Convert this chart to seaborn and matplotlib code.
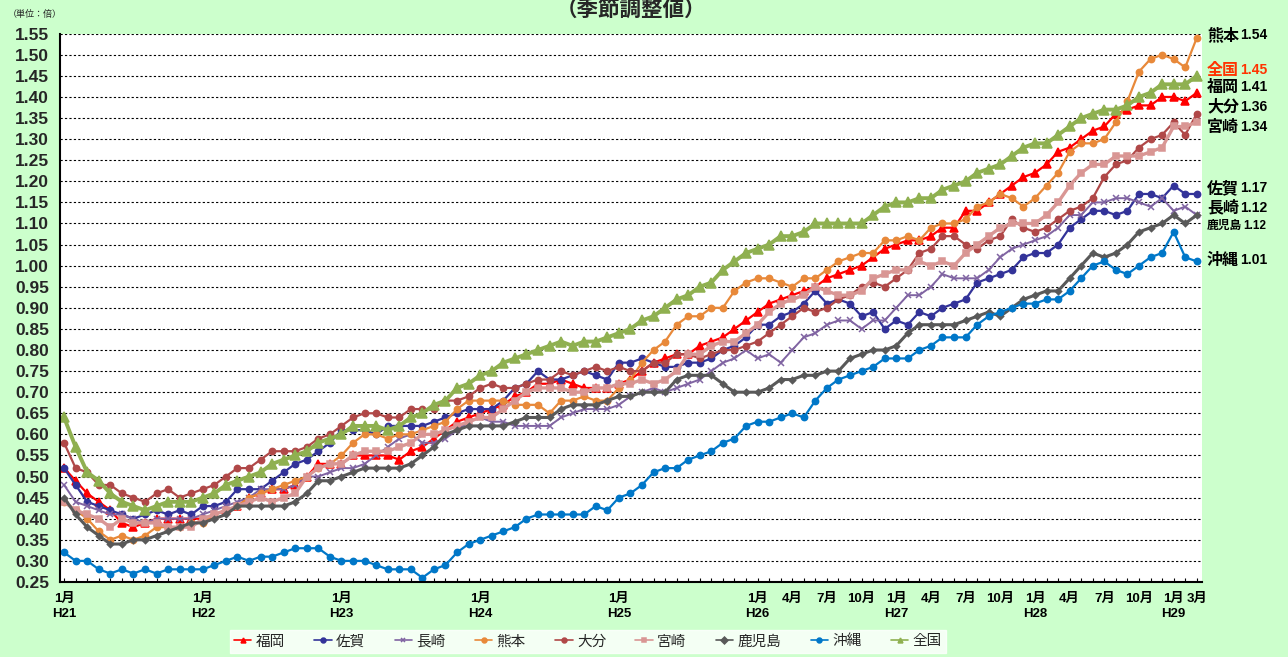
import numpy as np
import pandas as pd
import matplotlib
matplotlib.use('Agg')
import matplotlib.pyplot as plt
import seaborn as sns
from matplotlib.ticker import MultipleLocator, FormatStrFormatter

# monthly, Jan H21 .. Mar H29 (99 points)
months = np.arange(99)

fukuoka = [0.52, 0.49, 0.46, 0.44, 0.42, 0.39, 0.38, 0.39, 0.40, 0.40, 0.40, 0.40,
           0.40, 0.41, 0.42, 0.43, 0.45, 0.46, 0.47, 0.47, 0.48, 0.50, 0.53, 0.53,
           0.53, 0.55, 0.55, 0.55, 0.55, 0.54, 0.56, 0.57, 0.59, 0.61, 0.63, 0.64,
           0.65, 0.66, 0.67, 0.69, 0.70, 0.72, 0.72, 0.73, 0.72, 0.71, 0.71, 0.71,
           0.72, 0.73, 0.75, 0.77, 0.78, 0.79, 0.79, 0.81, 0.82, 0.83, 0.85, 0.87,
           0.89, 0.91, 0.92, 0.93, 0.94, 0.95, 0.97, 0.98, 0.99, 1.00, 1.02, 1.04,
           1.05, 1.06, 1.06, 1.07, 1.09, 1.09, 1.13, 1.13, 1.15, 1.17, 1.19, 1.21,
           1.22, 1.24, 1.27, 1.28, 1.30, 1.32, 1.33, 1.36, 1.37, 1.38, 1.38, 1.40,
           1.40, 1.39, 1.41]
saga = [0.52, 0.48, 0.44, 0.43, 0.42, 0.41, 0.40, 0.41, 0.42, 0.41, 0.42, 0.41,
        0.43, 0.43, 0.44, 0.47, 0.47, 0.47, 0.49, 0.51, 0.53, 0.54, 0.56, 0.58,
        0.61, 0.61, 0.61, 0.60, 0.62, 0.62, 0.62, 0.62, 0.63, 0.64, 0.65, 0.66,
        0.66, 0.66, 0.68, 0.71, 0.72, 0.75, 0.73, 0.73, 0.74, 0.75, 0.74, 0.73,
        0.77, 0.77, 0.78, 0.77, 0.76, 0.76, 0.77, 0.77, 0.78, 0.80, 0.81, 0.83,
        0.86, 0.86, 0.88, 0.89, 0.91, 0.94, 0.91, 0.92, 0.91, 0.88, 0.89, 0.85,
        0.87, 0.86, 0.89, 0.88, 0.90, 0.91, 0.92, 0.96, 0.97, 0.98, 0.99, 1.02,
        1.03, 1.03, 1.05, 1.09, 1.11, 1.13, 1.13, 1.12, 1.13, 1.17, 1.17, 1.16,
        1.19, 1.17, 1.17]
nagasaki = [0.48, 0.44, 0.43, 0.42, 0.41, 0.41, 0.40, 0.39, 0.40, 0.40, 0.40, 0.40,
            0.41, 0.42, 0.43, 0.44, 0.45, 0.47, 0.47, 0.47, 0.48, 0.50, 0.50, 0.51,
            0.52, 0.52, 0.53, 0.55, 0.57, 0.59, 0.60, 0.58, 0.58, 0.59, 0.61, 0.63,
            0.64, 0.63, 0.63, 0.62, 0.62, 0.62, 0.62, 0.64, 0.65, 0.66, 0.66, 0.66,
            0.67, 0.69, 0.70, 0.71, 0.70, 0.71, 0.72, 0.73, 0.75, 0.77, 0.78, 0.80,
            0.78, 0.79, 0.77, 0.80, 0.83, 0.84, 0.86, 0.87, 0.87, 0.85, 0.87, 0.87,
            0.90, 0.93, 0.93, 0.95, 0.98, 0.97, 0.97, 0.97, 0.99, 1.02, 1.04, 1.05,
            1.06, 1.07, 1.09, 1.12, 1.12, 1.15, 1.15, 1.16, 1.16, 1.15, 1.14, 1.16,
            1.13, 1.14, 1.12]
kumamoto = [0.44, 0.42, 0.40, 0.37, 0.35, 0.36, 0.35, 0.36, 0.38, 0.38, 0.38, 0.39,
            0.39, 0.41, 0.42, 0.43, 0.45, 0.46, 0.47, 0.48, 0.49, 0.50, 0.52, 0.53,
            0.55, 0.58, 0.60, 0.60, 0.59, 0.60, 0.60, 0.61, 0.62, 0.63, 0.66, 0.68,
            0.68, 0.68, 0.68, 0.67, 0.67, 0.67, 0.65, 0.68, 0.68, 0.69, 0.68, 0.68,
            0.71, 0.73, 0.77, 0.80, 0.82, 0.86, 0.88, 0.88, 0.90, 0.90, 0.94, 0.96,
            0.97, 0.97, 0.96, 0.95, 0.97, 0.97, 0.99, 1.01, 1.02, 1.03, 1.03, 1.06,
            1.06, 1.07, 1.06, 1.09, 1.10, 1.10, 1.11, 1.14, 1.15, 1.17, 1.16, 1.14,
            1.16, 1.19, 1.22, 1.27, 1.29, 1.29, 1.30, 1.34, 1.39, 1.46, 1.49, 1.50,
            1.49, 1.47, 1.54]
oita = [0.58, 0.52, 0.51, 0.48, 0.48, 0.46, 0.45, 0.44, 0.46, 0.47, 0.45, 0.46,
        0.47, 0.48, 0.50, 0.52, 0.52, 0.54, 0.56, 0.56, 0.56, 0.57, 0.59, 0.60,
        0.62, 0.64, 0.65, 0.65, 0.64, 0.64, 0.66, 0.66, 0.66, 0.68, 0.68, 0.69,
        0.71, 0.72, 0.71, 0.71, 0.72, 0.73, 0.73, 0.75, 0.74, 0.75, 0.76, 0.75,
        0.76, 0.75, 0.75, 0.77, 0.77, 0.79, 0.79, 0.78, 0.79, 0.80, 0.80, 0.81,
        0.82, 0.84, 0.86, 0.88, 0.90, 0.89, 0.90, 0.92, 0.93, 0.95, 0.96, 0.95,
        0.97, 0.99, 1.03, 1.04, 1.07, 1.07, 1.05, 1.04, 1.06, 1.07, 1.11, 1.09,
        1.08, 1.09, 1.11, 1.13, 1.14, 1.16, 1.21, 1.24, 1.25, 1.28, 1.30, 1.31,
        1.34, 1.31, 1.36]
miyazaki = [0.44, 0.42, 0.41, 0.40, 0.38, 0.40, 0.39, 0.39, 0.39, 0.38, 0.38, 0.38,
            0.40, 0.41, 0.42, 0.43, 0.44, 0.45, 0.44, 0.45, 0.46, 0.50, 0.52, 0.53,
            0.53, 0.55, 0.56, 0.56, 0.56, 0.57, 0.58, 0.60, 0.60, 0.61, 0.62, 0.63,
            0.64, 0.64, 0.66, 0.68, 0.70, 0.71, 0.71, 0.71, 0.70, 0.70, 0.71, 0.71,
            0.72, 0.72, 0.73, 0.72, 0.73, 0.75, 0.79, 0.79, 0.81, 0.82, 0.82, 0.84,
            0.86, 0.89, 0.91, 0.92, 0.93, 0.95, 0.94, 0.93, 0.93, 0.94, 0.97, 0.98,
            0.99, 0.99, 1.01, 1.00, 1.01, 1.00, 1.03, 1.05, 1.07, 1.09, 1.10, 1.10,
            1.10, 1.12, 1.15, 1.19, 1.22, 1.24, 1.24, 1.26, 1.26, 1.26, 1.27, 1.28,
            1.33, 1.33, 1.34]
kagoshima = [0.45, 0.41, 0.38, 0.36, 0.34, 0.34, 0.35, 0.35, 0.36, 0.37, 0.38, 0.39,
             0.39, 0.40, 0.41, 0.43, 0.43, 0.43, 0.43, 0.43, 0.44, 0.46, 0.49, 0.49,
             0.50, 0.51, 0.52, 0.52, 0.52, 0.52, 0.53, 0.55, 0.57, 0.60, 0.61, 0.62,
             0.62, 0.62, 0.62, 0.63, 0.64, 0.64, 0.64, 0.66, 0.67, 0.67, 0.67, 0.68,
             0.69, 0.69, 0.70, 0.70, 0.70, 0.73, 0.74, 0.74, 0.74, 0.72, 0.70, 0.70,
             0.70, 0.71, 0.73, 0.73, 0.74, 0.74, 0.75, 0.75, 0.78, 0.79, 0.80, 0.80,
             0.81, 0.84, 0.86, 0.86, 0.86, 0.86, 0.87, 0.88, 0.89, 0.88, 0.90, 0.92,
             0.93, 0.94, 0.94, 0.97, 1.00, 1.03, 1.02, 1.03, 1.05, 1.08, 1.09, 1.10,
             1.12, 1.10, 1.12]
okinawa = [0.32, 0.30, 0.30, 0.28, 0.27, 0.28, 0.27, 0.28, 0.27, 0.28, 0.28, 0.28,
           0.28, 0.29, 0.30, 0.31, 0.30, 0.31, 0.31, 0.32, 0.33, 0.33, 0.33, 0.31,
           0.30, 0.30, 0.30, 0.29, 0.28, 0.28, 0.28, 0.26, 0.28, 0.29, 0.32, 0.34,
           0.35, 0.36, 0.37, 0.38, 0.40, 0.41, 0.41, 0.41, 0.41, 0.41, 0.43, 0.42,
           0.45, 0.46, 0.48, 0.51, 0.52, 0.52, 0.54, 0.55, 0.56, 0.58, 0.59, 0.62,
           0.63, 0.63, 0.64, 0.65, 0.64, 0.68, 0.71, 0.73, 0.74, 0.75, 0.76, 0.78,
           0.78, 0.78, 0.80, 0.81, 0.83, 0.83, 0.83, 0.86, 0.88, 0.89, 0.90, 0.91,
           0.91, 0.92, 0.92, 0.94, 0.97, 1.00, 1.01, 0.99, 0.98, 1.00, 1.02, 1.03,
           1.08, 1.02, 1.01]
zenkoku = [0.64, 0.57, 0.51, 0.49, 0.46, 0.44, 0.43, 0.42, 0.43, 0.44, 0.44, 0.44,
           0.45, 0.46, 0.48, 0.49, 0.50, 0.51, 0.53, 0.54, 0.55, 0.56, 0.58, 0.59,
           0.60, 0.62, 0.62, 0.62, 0.61, 0.62, 0.64, 0.65, 0.67, 0.68, 0.71, 0.72,
           0.74, 0.75, 0.77, 0.78, 0.79, 0.80, 0.81, 0.82, 0.81, 0.82, 0.82, 0.83,
           0.84, 0.85, 0.87, 0.88, 0.90, 0.92, 0.93, 0.95, 0.96, 0.99, 1.01, 1.03,
           1.04, 1.05, 1.07, 1.07, 1.08, 1.10, 1.10, 1.10, 1.10, 1.10, 1.12, 1.14,
           1.15, 1.15, 1.16, 1.16, 1.18, 1.19, 1.20, 1.22, 1.23, 1.24, 1.26, 1.28,
           1.29, 1.29, 1.31, 1.33, 1.35, 1.36, 1.37, 1.37, 1.38, 1.40, 1.41, 1.43,
           1.43, 1.43, 1.45]

names = ['福岡', '佐賀', '長崎', '熊本', '大分', '宮崎', '鹿児島', '沖縄', '全国']
values = [fukuoka, saga, nagasaki, kumamoto, oita, miyazaki, kagoshima, okinawa, zenkoku]

tick_pos = [0, 12, 24, 36, 48, 60, 63, 66, 69, 72, 75, 78, 81, 84, 87, 90, 93, 96, 98]
tick_labels = ['1月\nH21', '1月\nH22', '1月\nH23', '1月\nH24', '1月\nH25',
               '1月\nH26', '4月', '7月', '10月', '1月\nH27', '4月', '7月', '10月',
               '1月\nH28', '4月', '7月', '10月', '1月\nH29', '3月']

end_names = ['熊本', '全国', '福岡', '大分', '宮崎', '佐賀', '長崎', '鹿児島', '沖縄']
end_values = ['1.54', '1.45', '1.41', '1.36', '1.34', '1.17', '1.12', '1.12', '1.01']

styles = {
    '福岡': dict(color='#FF0000', marker='^', ms=5.5, lw=1.6),
    '佐賀': dict(color='#333399', marker='o', ms=4.5, lw=1.6),
    '長崎': dict(color='#8064A2', marker='x', ms=4.5, lw=1.4),
    '熊本': dict(color='#E8893A', marker='o', ms=4.5, lw=1.6),
    '大分': dict(color='#B04848', marker='o', ms=4.5, lw=1.6),
    '宮崎': dict(color='#D99694', marker='s', ms=5, lw=2.4),
    '鹿児島': dict(color='#595959', marker='D', ms=3.2, lw=2.2),
    '沖縄': dict(color='#0077C8', marker='o', ms=4.5, lw=1.6),
    '全国': dict(color='#8FB050', marker='^', ms=6.5, lw=2.8),
}

sns.set_style('white')
plt.rcParams['font.family'] = ['Liberation Sans', 'Noto Sans CJK JP', 'DejaVu Sans']

fig = plt.figure(figsize=(12.88, 6.57), dpi=100, facecolor='#CCFFCC')
ax = fig.add_axes([0.0466, 0.1142, 0.8866, 0.8345])
ax.set_facecolor('white')

for name, vals in zip(names, values):
    st = styles[name]
    sns.lineplot(x=months, y=vals, ax=ax, color=st['color'], marker=st['marker'],
                 markersize=st['ms'], linewidth=st['lw'], markeredgecolor=st['color'],
                 markeredgewidth=1.1, label=name)

ax.set_xlim(-0.35, 98.45)
ax.set_ylim(0.25, 1.55)
ax.yaxis.set_major_locator(MultipleLocator(0.05))
ax.yaxis.set_major_formatter(FormatStrFormatter('%.2f'))
ax.yaxis.grid(True, linestyle=(0, (2, 2)), color='black', linewidth=0.8)
ax.xaxis.grid(False)
ax.set_axisbelow(True)

ax.set_xticks(tick_pos)
ax.set_xticklabels(tick_labels, fontsize=9.5, fontweight='bold', linespacing=1.3)
ax.xaxis.set_minor_locator(MultipleLocator(1))
ax.tick_params(axis='x', which='both', direction='in', length=3, width=0.8,
               bottom=True, pad=8, colors='black')
ax.tick_params(axis='y', length=0, pad=8, labelsize=12.5)
for lab in ax.get_yticklabels():
    lab.set_fontweight('bold')

for side in ['top', 'right']:
    ax.spines[side].set_visible(False)
for side in ['left', 'bottom']:
    ax.spines[side].set_color('black')
    ax.spines[side].set_linewidth(1.5)
ax.set_xlabel('')
ax.set_ylabel('')

ax.get_legend().remove()
handles, labels = ax.get_legend_handles_labels()
leg = fig.legend(handles, labels, loc='center', bbox_to_anchor=(0.4565, 0.0236),
                 ncol=9, frameon=True, fancybox=False, fontsize=10.5,
                 handlelength=1.2, handletextpad=0.3, columnspacing=2.0,
                 borderpad=0.3, borderaxespad=0)
leg.get_frame().set_facecolor('white')
leg.get_frame().set_edgecolor('white')
for h in leg.legend_handles:
    h.set_markersize(3.5)
    h.set_linewidth(1.2)

fig.text(0.49, 0.984, '（季節調整値）', ha='center', va='center', fontsize=15.5,
         fontweight='bold')
fig.text(0.006, 0.978, '（単位：倍）', ha='left', va='center', fontsize=6.5)

end_y = [35, 70, 87, 107, 127, 188, 208, 226, 260]
for nm, val, py in zip(end_names, end_values, end_y):
    col = '#FF3300' if nm == '全国' else 'black'
    fsz = 8.5 if nm == '鹿児島' else 11.5
    t = fig.text(1207 / 1288, 1 - py / 657, nm, ha='left', va='center',
                 fontsize=fsz, fontweight='bold', color=col)
    fig.canvas.draw()
    bb = t.get_window_extent()
    fig.text(bb.x1 / 1288 + 0.001, 1 - py / 657, val, ha='left', va='center',
             fontsize=fsz if nm == '鹿児島' else 10, fontweight='bold', color=col)

fig.savefig('out.png', dpi=100, facecolor=fig.get_facecolor())
